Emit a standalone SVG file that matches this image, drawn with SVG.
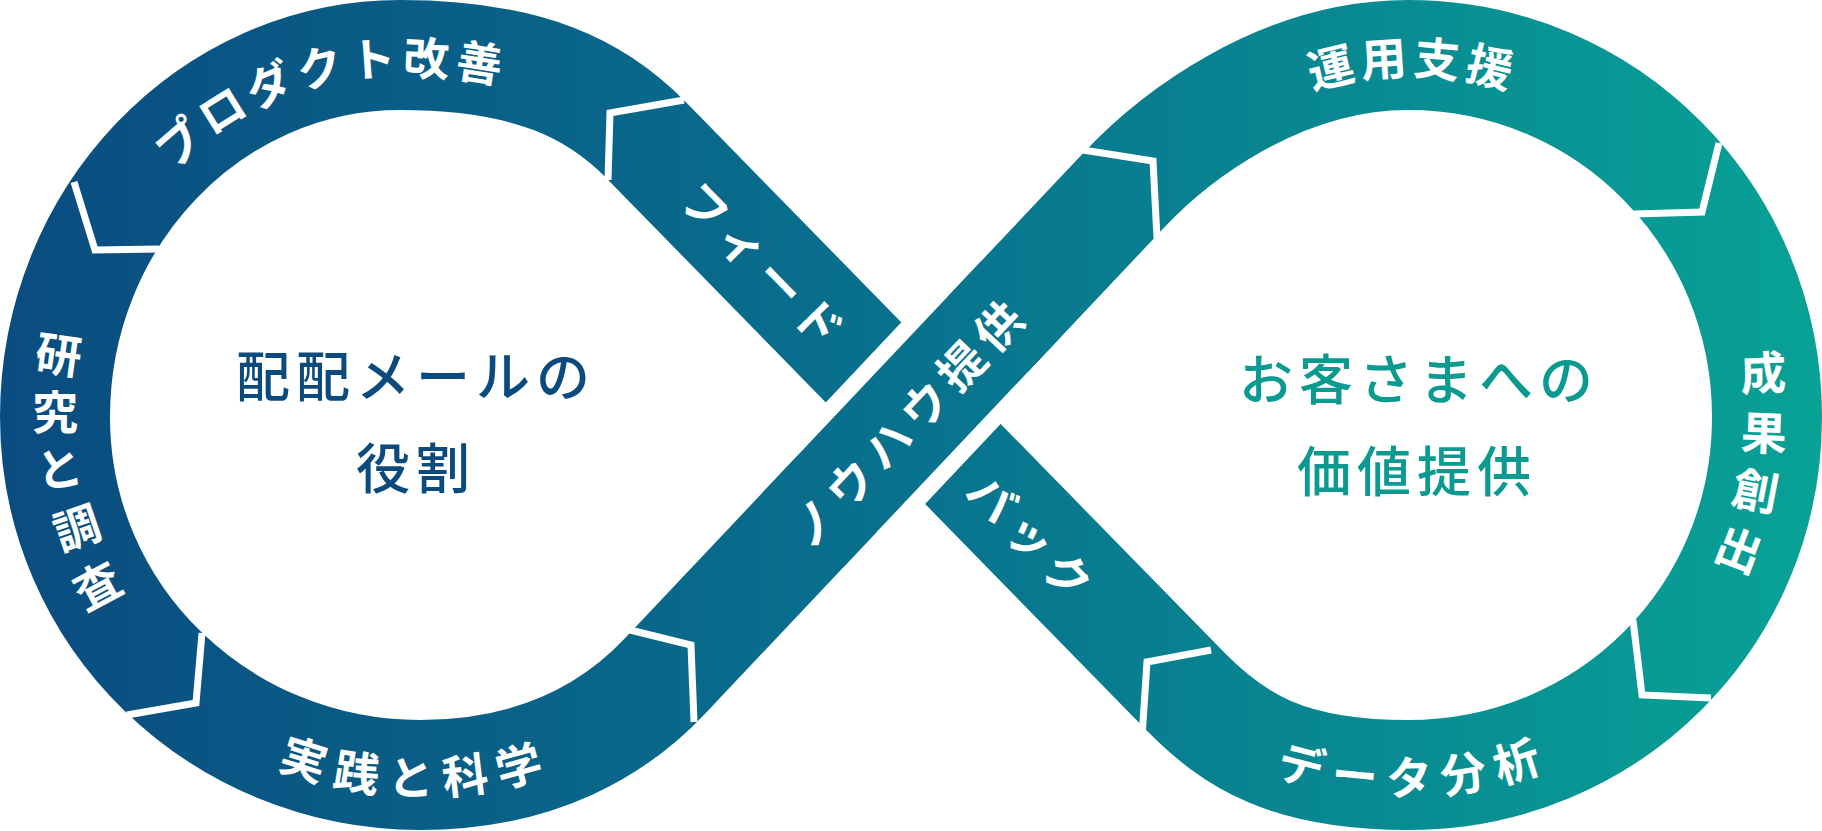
<svg xmlns="http://www.w3.org/2000/svg" xmlns:xlink="http://www.w3.org/1999/xlink" width="1822" height="831" viewBox="0 0 1822 831">
<style>
.lbl{font-family:"Noto Sans CJK JP","Noto Sans",sans-serif;font-weight:700;font-size:46px;fill:#fff;letter-spacing:8px}
.vl{font-family:"Noto Sans CJK JP","Noto Sans",sans-serif;font-weight:700;font-size:46px;fill:#fff}
.ttl{font-family:"Noto Sans CJK JP","Noto Sans",sans-serif;font-weight:500;font-size:54px;letter-spacing:6px}
.sep{fill:none;stroke:#fff;stroke-width:7;stroke-linejoin:miter}
</style>
<defs>
<linearGradient id="g" gradientUnits="userSpaceOnUse" x1="0" y1="0" x2="1822" y2="0">
<stop offset="0" stop-color="#0a4c80"/>
<stop offset="0.5" stop-color="#08728e"/>
<stop offset="1" stop-color="#08a296"/>
</linearGradient>
<path id="pL1" d="M55,417 C55,217 210,55 400,55 C530,55 597,90 646,140"/>
<path id="pL5" d="M55,417 C55,617 220,775 420,775 C540,775 617,727 665,676"/>
<path id="pR2" d="M1124,190 C1172,139 1278,55 1408,55 C1608,55 1767,217 1767,417"/>
<path id="pR4" d="M1185,691 C1234,741 1288,775 1408,775 C1608,775 1767,617 1767,417"/>
<path id="pB1" d="M644,140 L912,413"/>
<path id="pB2" d="M912,413 L1185,691"/>
<path id="pA" d="M665,676 L1124,190"/>
</defs>
<g id="connectors">
<path id="ring" d="M646,140 C597,90 530,55 400,55 C210,55 55,217 55,417 C55,617 220,775 420,775 C540,775 617,727 665,676 L1124,190 C1172,139 1278,55 1408,55 C1608,55 1767,217 1767,417 C1767,617 1608,775 1408,775 C1288,775 1234,741 1185,691 L646,140 Z" fill="none" stroke="url(#g)" stroke-width="110" stroke-linejoin="round"/>
<path d="M836.6,494.4 L987.7,334.2" stroke="#fff" stroke-width="142" fill="none"/>
<path d="M802.3,530.6 L1022.0,298.0" stroke="url(#g)" stroke-width="110" fill="none"/>
<polyline class="sep" points="684,100 610,113 608,180"/>
<polyline class="sep" points="74,182 95,250 159,249"/>
<polyline class="sep" points="127,715 196,703 202,633"/>
<polyline class="sep" points="630,630 691,645 694,722"/>
<polyline class="sep" points="1083,150 1153,161 1157,238"/>
<polyline class="sep" points="1719,143 1702,212 1634,214"/>
<polyline class="sep" points="1633,620 1642,695 1711,698"/>
<polyline class="sep" points="1211,650 1147,662 1142,737"/>
</g>
<g id="node-product"><text class="lbl" dominant-baseline="central" text-anchor="middle"><textPath href="#pL1" startOffset="58%">プロダクト改善</textPath></text></g>
<g id="node-jissen"><text class="lbl" dominant-baseline="central" text-anchor="middle"><textPath href="#pL5" startOffset="67%">実践と科学</textPath></text></g>
<g id="node-unyo"><text class="lbl" dominant-baseline="central" text-anchor="middle"><textPath href="#pR2" startOffset="37%">運用支援</textPath></text></g>
<g id="node-data"><text class="lbl" dominant-baseline="central" text-anchor="middle"><textPath href="#pR4" startOffset="31%">データ分析</textPath></text></g>
<g id="node-feed"><text class="lbl" dominant-baseline="central" text-anchor="middle"><textPath href="#pB1" startOffset="175">フィード</textPath></text>
<text class="lbl" dominant-baseline="central" text-anchor="middle"><textPath href="#pB2" startOffset="175">バック</textPath></text></g>
<g id="node-knowhow"><text class="lbl" dominant-baseline="central" text-anchor="middle"><textPath href="#pA" startOffset="352">ノウハウ提供</textPath></text></g>
<g id="node-kenkyu" class="vl" text-anchor="middle">
<text x="0" y="0" dominant-baseline="central" transform="translate(59,352) rotate(8)">研</text>
<text x="0" y="0" dominant-baseline="central" transform="translate(55,409) rotate(0)">究</text>
<text x="0" y="0" dominant-baseline="central" transform="translate(59,466) rotate(-8)">と</text>
<text x="0" y="0" dominant-baseline="central" transform="translate(76,525) rotate(-19)">調</text>
<text x="0" y="0" dominant-baseline="central" transform="translate(96,583) rotate(-28)">査</text>
</g>
<g id="node-seika" class="vl" text-anchor="middle">
<text x="0" y="0" dominant-baseline="central" transform="translate(1763,370) rotate(-2)">成</text>
<text x="0" y="0" dominant-baseline="central" transform="translate(1764,430) rotate(2)">果</text>
<text x="0" y="0" dominant-baseline="central" transform="translate(1756,488) rotate(11)">創</text>
<text x="0" y="0" dominant-baseline="central" transform="translate(1740,547) rotate(21)">出</text>
</g>
<g id="node-role"><text class="ttl" fill="#0b4a7c" text-anchor="middle" x="416" y="397">配配メールの</text>
<text class="ttl" fill="#0b4a7c" text-anchor="middle" x="416" y="489">役割</text></g>
<g id="node-value"><text class="ttl" fill="#0a9a8f" text-anchor="middle" x="1419" y="400">お客さまへの</text>
<text class="ttl" fill="#0a9a8f" text-anchor="middle" x="1417" y="492">価値提供</text></g>
</svg>
